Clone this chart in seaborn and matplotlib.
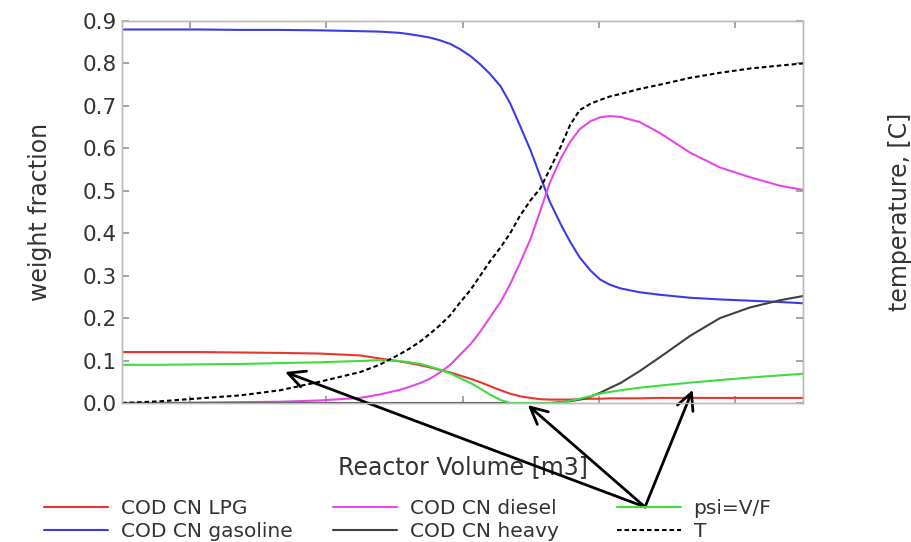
import numpy as np
import pandas as pd
import matplotlib
matplotlib.use("Agg")
import matplotlib.pyplot as plt
import seaborn as sns

# Reactor volume (arbitrary units, tick labels not shown in the reference)
volume = [0.0, 0.28, 0.57, 0.87, 1.16, 1.45, 1.75, 1.89, 2.04, 2.11, 2.19, 2.26, 2.33,
          2.41, 2.48, 2.56, 2.63, 2.70, 2.78, 2.85, 2.92, 3.00, 3.07, 3.14, 3.22, 3.29,
          3.36, 3.44, 3.51, 3.58, 3.66, 3.80, 3.95, 4.17, 4.39, 4.61, 4.83, 5.0]

lpg = [0.120, 0.120, 0.120, 0.119, 0.118, 0.1165, 0.112, 0.105, 0.098, 0.094, 0.089, 0.084, 0.078,
       0.072, 0.065, 0.057, 0.049, 0.040, 0.030, 0.022, 0.016, 0.012, 0.009, 0.008, 0.008, 0.008,
       0.009, 0.010, 0.010, 0.011, 0.011, 0.011, 0.012, 0.012, 0.012, 0.012, 0.012, 0.012]
gasoline = [0.880, 0.880, 0.880, 0.879, 0.879, 0.878, 0.876, 0.875, 0.872, 0.869, 0.865, 0.861, 0.855,
            0.846, 0.834, 0.817, 0.798, 0.776, 0.746, 0.706, 0.655, 0.595, 0.535, 0.475, 0.422, 0.380,
            0.343, 0.312, 0.291, 0.279, 0.270, 0.261, 0.255, 0.248, 0.244, 0.241, 0.238, 0.235]
diesel = [0.000, 0.000, 0.001, 0.002, 0.003, 0.006, 0.012, 0.020, 0.031, 0.038, 0.047, 0.057, 0.071,
          0.090, 0.113, 0.139, 0.168, 0.201, 0.238, 0.280, 0.328, 0.387, 0.452, 0.518, 0.575, 0.615,
          0.645, 0.664, 0.673, 0.676, 0.674, 0.662, 0.636, 0.590, 0.555, 0.532, 0.512, 0.502]
heavy = [0.0, 0.0, 0.0, 0.0, 0.0, 0.0, 0.0, 0.0, 0.0, 0.0, 0.0, 0.0, 0.0,
         0.0, 0.0, 0.0, 0.0, 0.0, 0.0, 0.0, 0.0, 0.0, 0.0, 0.0, 0.002, 0.004,
         0.008, 0.015, 0.024, 0.035, 0.047, 0.075, 0.108, 0.158, 0.200, 0.225, 0.242, 0.252]
psi = [0.090, 0.090, 0.091, 0.092, 0.094, 0.096, 0.099, 0.101, 0.099, 0.096, 0.092, 0.086, 0.079,
       0.070, 0.059, 0.047, 0.034, 0.020, 0.007, 0.000, 0.000, 0.000, 0.000, 0.000, 0.001, 0.005,
       0.010, 0.016, 0.022, 0.026, 0.030, 0.036, 0.041, 0.048, 0.054, 0.060, 0.065, 0.069]
# temperature [C] (right axis, no tick labels in the reference)
temperature = [400.0, 400.4, 401.1, 401.8, 403.0, 405.0, 407.3, 409.0, 411.5, 412.8, 414.5, 416.3, 418.2,
               420.7, 423.6, 426.7, 430.0, 433.3, 436.7, 440.0, 444.0, 447.8, 450.5, 455.0, 460.3, 465.5,
               469.0, 470.5, 471.4, 472.2, 472.8, 474.0, 475.0, 476.6, 477.8, 478.8, 479.5, 480.0]

series_names = ["COD CN LPG", "COD CN gasoline", "COD CN diesel", "COD CN heavy", "psi=V/F"]
series_values = [lpg, gasoline, diesel, heavy, psi]
series_colors = ["#e8362f", "#3c3ce6", "#e648e6", "#404040", "#3fdc3f"]

sns.set_theme(style="white")
plt.rcParams['font.family'] = ['DejaVu Sans']

fig = plt.figure(figsize=(9.12, 5.42), dpi=100)
ax = fig.add_axes([122/912, 1-403/542, (803-122)/912, (403-21)/542])

for name, vals, col in zip(series_names, series_values, series_colors):
    df = pd.DataFrame({"volume": volume, "value": vals})
    sns.lineplot(data=df, x="volume", y="value", ax=ax, color=col, lw=1.5,
                 label=name, legend=False)

ax2 = ax.twinx()
dft = pd.DataFrame({"volume": volume, "T": temperature})
sns.lineplot(data=dft, x="volume", y="T", ax=ax2, color="black", lw=1.5,
             label="T", legend=False)
ax2.get_lines()[0].set_dashes([2.2, 1.4])

ax.set_xlim(0, 5)
ax.set_ylim(0, 0.9)
ax2.set_ylim(400, 490)
ax.set_yticks(np.arange(0, 0.91, 0.1))
ax.set_yticklabels([f"{v:.1f}" for v in np.arange(0, 0.91, 0.1)], fontsize=15.5, color="#333333")
ax.set_xticks([0.5, 1.5, 2.5, 3.5, 4.5])
ax.set_xticklabels([])
ax2.set_yticklabels([])
ax.tick_params(axis="both", direction="in", length=5, color="#999999", left=True, bottom=True, top=True)
ax2.tick_params(axis="y", direction="in", length=5, color="#999999", right=True)
for a in (ax, ax2):
    for s in a.spines.values():
        s.set_color("#bbbbbb")
        s.set_linewidth(1.0)

ax.set_xlabel("Reactor Volume [m3]", fontsize=17, color="#333333", labelpad=34)
ax.set_ylabel("weight fraction", fontsize=17, color="#333333", labelpad=22)
ax2.set_ylabel("temperature, [C]", fontsize=17, color="#333333", labelpad=58)

# legend: three columns placed like the reference
handles = ax.get_lines() + ax2.get_lines()
labels = [h.get_label() for h in handles]
col_x = [44/912, 333/912, 617/912]
for i, cx in enumerate(col_x):
    fig.legend(handles[2*i:2*i+2], labels[2*i:2*i+2], loc="center left",
               bbox_to_anchor=(cx, 0.041), borderaxespad=0, borderpad=0,
               frameon=False, fontsize=14.5, handlelength=3.2,
               labelspacing=0.2, handletextpad=0.6, labelcolor="#333333")

# arrows from the legend's psi entry to the psi curve
tail = (645/912, 1-507/542)
for hx, hy in [(1.197, 0.073), (2.98, -0.005), (4.19, 0.031)]:
    ax.annotate("", xy=(hx, hy), xycoords="data", xytext=tail, textcoords="figure fraction",
                arrowprops=dict(arrowstyle="->", lw=2, color="black", mutation_scale=30,
                                shrinkA=0, shrinkB=0),
                annotation_clip=False)

fig.savefig("out.png", dpi=100)
